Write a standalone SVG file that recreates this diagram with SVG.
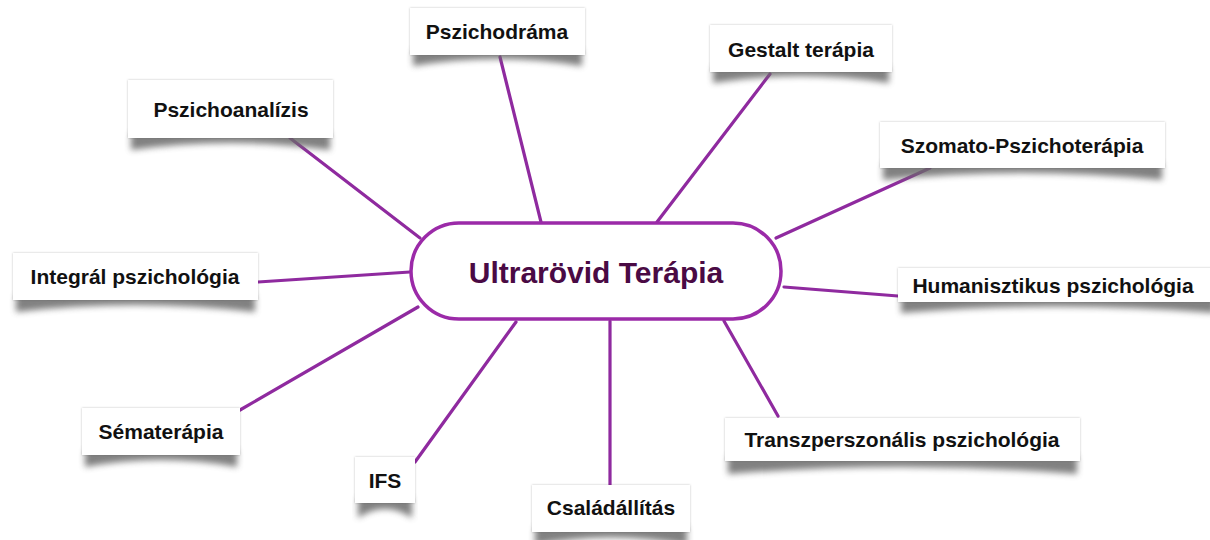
<svg xmlns="http://www.w3.org/2000/svg" width="1210" height="540" viewBox="0 0 1210 540">
<defs>
<filter id="blur" x="-10%" y="-50%" width="120%" height="200%"><feGaussianBlur stdDeviation="3"/></filter>
<filter id="soft" x="-10%" y="-20%" width="120%" height="140%"><feDropShadow dx="0" dy="0" stdDeviation="1.2" flood-color="#000" flood-opacity="0.25"/></filter>
<style>
.box{fill:#fff;filter:url(#soft)}
.sh{fill:#6a6a6a;filter:url(#blur);opacity:0.85}
.lbl{font-family:"Liberation Sans",Arial,sans-serif;font-weight:bold;font-size:21px;fill:#111;text-anchor:middle}
.con line{stroke:#8f2a9f;stroke-width:3.2;stroke-linecap:round}
</style>
</defs>
<rect width="1210" height="540" fill="#fff"/>
<g class="con">
<line x1="500" y1="57" x2="541" y2="222"/>
<line x1="770" y1="74" x2="657" y2="222"/>
<line x1="290" y1="138" x2="420" y2="238"/>
<line x1="930" y1="168" x2="776" y2="238"/>
<line x1="258" y1="282" x2="410" y2="272"/>
<line x1="784" y1="287" x2="898" y2="296"/>
<line x1="240" y1="410" x2="418" y2="307"/>
<line x1="415" y1="462" x2="516" y2="322"/>
<line x1="610" y1="321" x2="610" y2="485"/>
<line x1="724" y1="321" x2="778" y2="416"/>
</g>
<g id="center">
<rect x="411" y="223" width="370" height="96" rx="48" fill="#fff" stroke="#9b2aa8" stroke-width="3.5"/>
<text x="596" y="283" font-family="'Liberation Sans',Arial,sans-serif" font-weight="bold" font-size="30" fill="#4a0a44" text-anchor="middle">Ultrarövid Terápia</text>
</g>
<g id="n-pszichodrama">
<path class="sh" d="M413 50 H582 V66 Q497 52 413 66 Z"/>
<rect class="box" x="410" y="8" width="175" height="47"/>
<text class="lbl" x="497" y="39">Pszichodráma</text>
</g>
<g id="n-gestalt">
<path class="sh" d="M713 67 H889 V83 Q801 69 713 83 Z"/>
<rect class="box" x="710" y="25" width="182" height="47"/>
<text class="lbl" x="801" y="57">Gestalt terápia</text>
</g>
<g id="n-pszichoanalizis">
<path class="sh" d="M131 133 H330 V150 Q230 136 131 150 Z"/>
<rect class="box" x="128" y="80" width="205" height="58"/>
<text class="lbl" x="231" y="117">Pszichoanalízis</text>
</g>
<g id="n-szomato">
<path class="sh" d="M883 163 H1162 V180 Q1022 166 883 180 Z"/>
<rect class="box" x="880" y="122" width="285" height="46"/>
<text class="lbl" x="1022" y="153">Szomato-Pszichoterápia</text>
</g>
<g id="n-integral">
<path class="sh" d="M16 295 H255 V312 Q135 298 16 312 Z"/>
<rect class="box" x="13" y="253" width="245" height="47"/>
<text class="lbl" x="135" y="284">Integrál pszichológia</text>
</g>
<g id="n-humanisztikus">
<path class="sh" d="M901 297 H1215 V313 Q1055 300 901 313 Z"/>
<rect class="box" x="898" y="268" width="320" height="34"/>
<text class="lbl" x="1053" y="293">Humanisztikus pszichológia</text>
</g>
<g id="n-sematerapia">
<path class="sh" d="M85 450 H237 V467 Q161 453 85 467 Z"/>
<rect class="box" x="82" y="408" width="158" height="47"/>
<text class="lbl" x="161" y="439">Sématerápia</text>
</g>
<g id="n-ifs">
<path class="sh" d="M358 498 H412 V518 Q385 500 358 518 Z"/>
<rect class="box" x="355" y="457" width="60" height="46"/>
<text class="lbl" x="385" y="488">IFS</text>
</g>
<g id="n-csaladallitas">
<path class="sh" d="M535 527 H687 V545 Q611 530 535 545 Z"/>
<rect class="box" x="532" y="485" width="158" height="47"/>
<text class="lbl" x="611" y="515">Családállítás</text>
</g>
<g id="n-transz">
<path class="sh" d="M728 456 H1077 V474 Q902 460 728 474 Z"/>
<rect class="box" x="725" y="418" width="355" height="43"/>
<text class="lbl" x="902" y="447">Transzperszonális pszichológia</text>
</g>
</svg>
